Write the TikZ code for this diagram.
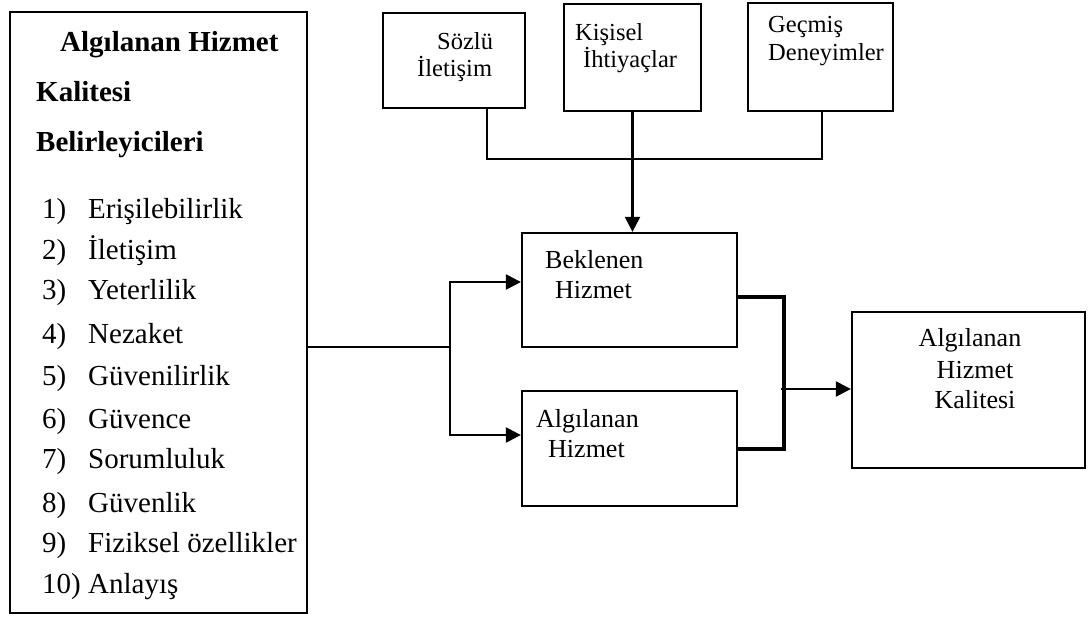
\documentclass[tikz,border=0pt]{standalone}
\usepackage{fontspec}
\setmainfont{Liberation Serif}
\usetikzlibrary{arrows.meta}
\begin{document}
\begin{tikzpicture}[x=1pt,y=-1pt,
  box/.style={draw,line width=2.3pt,inner sep=0pt},
  lbl/.style={anchor=base west,inner sep=0pt},
  lblc/.style={anchor=base,inner sep=0pt},
  big/.style={font=\fontsize{29}{35}\selectfont},
  bigb/.style={font=\fontsize{29}{35}\selectfont\bfseries},
  mid/.style={font=\fontsize{26}{30}\selectfont},
  sml/.style={font=\fontsize{24.5}{28}\selectfont},
  conn/.style={line width=2.3pt},
  thick conn/.style={line width=4pt},
  arr/.style={line width=2.3pt,-{Triangle[length=15pt,width=15pt]}}]
\useasboundingbox (0,0) rectangle (1089,617);
% left box
\node[box,minimum width=297pt,minimum height=601pt] (L) at (158.5,312.5) {};
\node[lbl,bigb] (h1) at (60,52) {Algılanan Hizmet};
\node[lbl,bigb] (h2) at (36,102) {Kalitesi};
\node[lbl,bigb] (h3) at (36,152) {Belirleyicileri};
\foreach \n/\t/\y in {1/Erişilebilirlik/219,2/İletişim/260,3/Yeterlilik/300,4/Nezaket/344,5/Güvenilirlik/385,6/Güvence/428,7/Sorumluluk/468,8/Güvenlik/512,9/Fiziksel özellikler/552}{
  \node[lbl,big] (n\n) at (42,\y) {\n)};
  \node[lbl,big] (i\n) at (88,\y) {\t};
}
\node[lbl,big] (n10) at (42,593) {10)};
\node[lbl,big] (i10) at (88,593) {Anlayış};
% top boxes
\node[box,minimum width=142pt,minimum height=95pt] (S) at (454,60.5) {};
\node[lbl,sml] (s1) at (437,50) {Sözlü};
\node[lbl,sml] (s2) at (417,77) {İletişim};
\node[box,minimum width=137pt,minimum height=107pt] (K) at (632.5,57.5) {};
\node[lbl,sml] (k1) at (575,41) {Kişisel};
\node[lbl,sml] (k2) at (583,68) {İhtiyaçlar};
\node[box,minimum width=145pt,minimum height=108pt] (G) at (820.5,57) {};
\node[lbl,sml] (g1) at (768,33) {Geçmiş};
\node[lbl,sml] (g2) at (768,61) {Deneyimler};
% middle boxes
\node[box,minimum width=215pt,minimum height=114pt] (B) at (629.5,290) {};
\node[lbl,mid] (b1) at (545,269) {Beklenen};
\node[lbl,mid] (b2) at (555,299) {Hizmet};
\node[box,minimum width=215pt,minimum height=115pt] (A) at (629.5,448.5) {};
\node[lbl,mid] (a1) at (536,427) {Algılanan};
\node[lbl,mid] (a2) at (548,457) {Hizmet};
% final box
\node[box,minimum width=233pt,minimum height=156pt] (F) at (968.5,390) {};
\node[lblc,mid] (f1) at (970,347) {Algılanan};
\node[lblc,mid] (f2) at (975,378) {Hizmet};
\node[lblc,mid] (f3) at (975,408) {Kalitesi};
% connectors
\coordinate (join) at (632.5,159);
\draw[conn] (S.south -| 487,0) |- (join) -| (G.south -| 822,0);
\draw[arr] (K.south) -- (B.north -| K.south);
\coordinate (fork) at (450,347);
\draw[conn] (L.east |- fork) -- (fork);
\draw[arr] (fork) |- (B.west |- 0,282);
\draw[arr] (fork) |- (A.west |- 0,435);
\coordinate (merge) at (784,389);
\draw[thick conn] (B.east |- 0,297) -| (merge) |- (A.east |- 0,449);
\draw[arr] (781,389) -- (F.west |- merge);
\end{tikzpicture}
\end{document}
